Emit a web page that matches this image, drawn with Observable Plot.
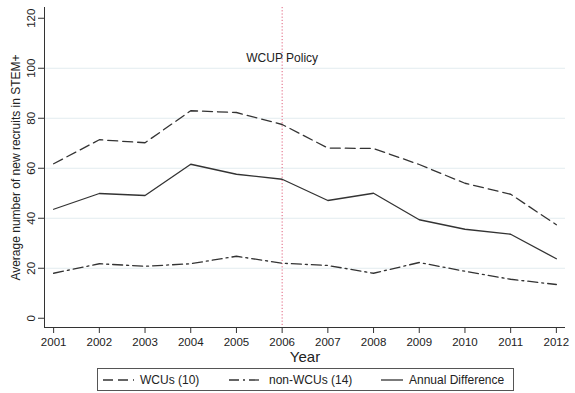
<!DOCTYPE html>
<html>
<head>
<meta charset="utf-8">
<script src="https://cdn.jsdelivr.net/npm/d3@7"></script>
<script src="https://cdn.jsdelivr.net/npm/@observablehq/plot@0.6"></script>
<style>
  html, body { margin: 0; padding: 0; background: white; }
  body { width: 575px; height: 393px; overflow: hidden; font-family: "Liberation Sans", Arial, sans-serif; }
  #chart svg { display: block; overflow: visible; }
  #legend { position: relative; margin-left: 97px; margin-top: 2px; width: 417px; height: 23px; border: 1px solid #555; box-sizing: border-box; font-size: 12px; color: #222; }
  #legend .item { position: absolute; top: 0; height: 21px; display: flex; align-items: center; }
  #legend svg { display: block; }
  #legend span { margin-left: 6px; white-space: nowrap; }
</style>
</head>
<body>
<div id="chart"></div>
<div id="legend"></div>
<script>
const years = [2001, 2002, 2003, 2004, 2005, 2006, 2007, 2008, 2009, 2010, 2011, 2012];
const wcus = [61.8, 71.4, 70.2, 83, 82.3, 77.5, 68.1, 67.9, 61.5, 54, 49.6, 37.4];
const nonWcus = [18, 21.8, 20.8, 21.8, 24.8, 22, 21.1, 18, 22.3, 18.8, 15.6, 13.5];
const annualDiff = [43.6, 49.9, 49.1, 61.6, 57.6, 55.6, 47.1, 50, 39.4, 35.6, 33.6, 23.8];
const seriesNames = ["WCUs (10)", "non-WCUs (14)", "Annual Difference"];
const yTicks = [0, 20, 40, 60, 80, 100, 120];
const gridTicks = [20, 40, 60, 80, 100];
const policyYear = [2006];
const policyLabel = "WCUP Policy";
const xTitle = "Year";
const yTitle = "Average number of new recruits in STEM+";

const dashes = ["10,5", "10,4,2,4", null];
const seriesValues = [wcus, nonWcus, annualDiff];

const rows = [];
seriesNames.forEach((name, i) => {
  years.forEach((yr, j) => rows.push({series: name, year: yr, value: seriesValues[i][j]}));
});

const xDomain = [2000.8, 2012.2];
const yDomain = [-3.7, 124.3];
const ink = "#333";

const lineMarks = seriesNames.map((name, i) =>
  Plot.line(rows.filter(r => r.series === name), {
    x: "year", y: "value", stroke: ink, strokeWidth: 1.3,
    strokeDasharray: dashes[i] || undefined
  })
);

const chart = Plot.plot({
  width: 575,
  height: 366,
  marginLeft: 44,
  marginRight: 10,
  marginTop: 7,
  marginBottom: 39,
  style: {fontFamily: "'Liberation Sans', Arial, sans-serif", fontSize: "11.5px", color: "#222", background: "white", overflow: "visible"},
  x: {domain: xDomain},
  y: {domain: yDomain},
  marks: [
    Plot.ruleY(gridTicks, {stroke: "#e2ecef", strokeWidth: 1}),
    Plot.ruleX(policyYear, {stroke: "#e0607c", strokeWidth: 1, strokeDasharray: "1.2,2"}),
    Plot.text([policyLabel], {x: policyYear[0], frameAnchor: "top", dy: 46, fontSize: 12, fill: "#222"}),
    ...lineMarks,
    Plot.ruleX([xDomain[0]], {stroke: ink, strokeWidth: 1}),
    Plot.ruleY([yDomain[0]], {stroke: ink, strokeWidth: 1}),
    Plot.axisX({ticks: years, tickFormat: d => String(d), tickSize: 6, tickPadding: 4, label: null, stroke: ink, fontSize: 11.5}),
    Plot.axisY({ticks: yTicks, tickSize: 6, tickFormat: () => "", label: null, stroke: ink}),
    Plot.text(yTicks, {y: d => d, text: d => String(d), frameAnchor: "left", dx: -13, rotate: -90, textAnchor: "middle", lineAnchor: "middle", fontSize: 11.5, fill: "#222"}),
    Plot.text([yTitle], {frameAnchor: "left", dx: -28, rotate: -90, textAnchor: "middle", lineAnchor: "middle", fontSize: 12, fill: "#222"}),
    Plot.text([xTitle], {frameAnchor: "bottom", dy: 30, lineAnchor: "middle", fontSize: 15, fill: "#222"})
  ]
});
document.getElementById("chart").appendChild(chart);

// Legend
const legend = d3.select("#legend");
const legendPos = [{left: 5, w: 31}, {left: 131, w: 34}, {left: 283, w: 22}];
seriesNames.forEach((name, i) => {
  const item = legend.append("div").attr("class", "item").style("left", legendPos[i].left + "px");
  const s = item.append("svg").attr("width", legendPos[i].w).attr("height", 4);
  s.append("line").attr("x1", 0).attr("x2", legendPos[i].w).attr("y1", 2).attr("y2", 2)
    .attr("stroke", ink).attr("stroke-width", 1.3)
    .attr("stroke-dasharray", dashes[i]);
  item.append("span").text(name);
});
</script>
</body>
</html>
